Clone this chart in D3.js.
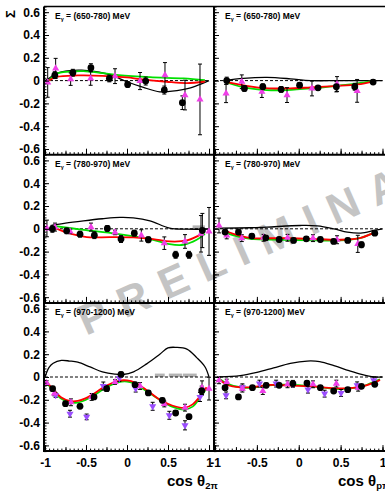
<!DOCTYPE html>
<html><head><meta charset="utf-8">
<script src="https://cdn.jsdelivr.net/npm/d3@7"></script>
<style>
body{margin:0;background:#fff}
svg{display:block}
text{font-family:"Liberation Sans",Arial,Helvetica,sans-serif;font-weight:bold}
</style>
</head><body>
<svg id="chart" width="385" height="491"></svg>
<script>
// ---- energy bins (rows) and angle variables (columns) ----
const energyBins = ["(650-780)", "(780-970)", "(970-1200)"];
const axisTitles = ["2π", "pπ"];
const yTickValues = [-0.6, -0.4, -0.2, 0, 0.2, 0.4, 0.6];
const xTickValues = [-1, -0.5, 0, 0.5, 1];
const xTickLabels = ["-1", "-0.5", "0", "0.5", "1"];

// ---- E = 650-780 MeV, cos theta_2pi ----
const e650_2pi_circX = [-0.88, -0.66, -0.44, -0.215, 0.008, 0.228, 0.455, 0.675];
const e650_2pi_circY = [0.048, 0.069, 0.113, 0.019, -0.034, -0.004, -0.083, -0.194];
const e650_2pi_circE = [0.03, 0.03, 0.035, 0.03, 0.025, 0.035, 0.035, 0.06];
const e650_2pi_triX = [-0.967, -0.87, -0.687, -0.443, -0.146, 0.159, 0.463, 0.707, 0.89];
const e650_2pi_triY = [-0.016, 0.107, 0.013, 0.019, 0.039, -0.004, 0.048, -0.127, -0.165];
const e650_2pi_triE = [0.13, 0.088, 0.055, 0.06, 0.065, 0.075, 0.11, 0.13, 0.31];
const e650_2pi_black = [[-1,0],[-0.95,0.02],[-0.86,0.063],[-0.7,0.088],[-0.55,0.092],[-0.4,0.08],[-0.2,0.05],[0,-0.01],[0.2,-0.06],[0.4,-0.098],[0.55,-0.092],[0.75,-0.068],[0.9,-0.03],[1,0]];
const e650_2pi_green = [[-0.95,0.0],[-0.86,0.06],[-0.7,0.078],[-0.53,0.083],[-0.3,0.065],[-0.1,0.048],[0.28,0.03],[0.69,0.019],[0.95,0.004]];
const e650_2pi_red = [[-0.95,0],[-0.86,0.032],[-0.6,0.045],[-0.3,0.042],[0,0.028],[0.16,0.013],[0.48,-0.01],[0.73,-0.022],[0.95,-0.008]];

// ---- E = 650-780 MeV, cos theta_ppi ----
const e650_ppi_circX = [-0.86, -0.649, -0.429, -0.21, 0.01, 0.23, 0.449, 0.669, 0.888];
const e650_ppi_circY = [0, -0.069, -0.054, -0.077, -0.04, -0.063, -0.054, -0.054, -0.013];
const e650_ppi_circE = [0.03, 0.025, 0.025, 0.025, 0.02, 0.02, 0.045, 0.03, 0.02];
const e650_ppi_triX = [-0.868, -0.68, -0.44, -0.14, 0.158, 0.457, 0.697];
const e650_ppi_triY = [-0.113, -0.01, -0.098, -0.127, -0.069, -0.03, -0.09];
const e650_ppi_triE = [0.08, 0.06, 0.05, 0.065, 0.065, 0.065, 0.1];
const e650_ppi_black = [[-0.9,0],[-0.66,0.02],[-0.38,0.028],[-0.1,0.016],[0.14,0.0],[0.5,0],[1,0]];
const e650_ppi_green = [[-0.88,-0.01],[-0.66,-0.06],[-0.38,-0.083],[-0.14,-0.083],[0.14,-0.069],[0.42,-0.048],[0.7,-0.025],[0.9,-0.001]];
const e650_ppi_red = [[-0.88,-0.004],[-0.78,-0.025],[-0.46,-0.063],[-0.14,-0.069],[0.14,-0.06],[0.42,-0.048],[0.7,-0.034],[0.9,-0.004]];

// ---- E = 780-970 MeV, cos theta_2pi ----
const e780_2pi_circX = [-0.91, -0.736, -0.573, -0.398, -0.24, -0.073, 0.089, 0.26, 0.593, 0.756, 0.919];
const e780_2pi_circY = [0, -0.018, -0.047, -0.056, 0.003, -0.09, -0.038, -0.096, -0.228, -0.228, -0.015];
const e780_2pi_circE = [0.03, 0.025, 0.025, 0.03, 0.025, 0.03, 0.025, 0.025, 0.03, 0.03, 0.15];
const e780_2pi_triX = [-0.976, -0.878, -0.695, -0.439, -0.146, 0.175, 0.455, 0.707, 0.902, 1.0];
const e780_2pi_triY = [0.003, 0.015, -0.023, 0.015, -0.032, -0.058, -0.126, -0.111, -0.044, -0.023];
const e780_2pi_triE = [0.073, 0.035, 0.02, 0.035, 0.02, 0.05, 0.055, 0.06, 0.16, 0.21];
const e780_2pi_black = [[-0.92,0.03],[-0.75,0.05],[-0.53,0.07],[-0.3,0.088],[-0.085,0.1],[0.077,0.096],[0.28,0.07],[0.52,0.006],[0.73,-0.003],[1,-0.003]];
const e780_2pi_green = [[-0.9,0.026],[-0.53,-0.009],[-0.126,-0.044],[0.28,-0.09],[0.52,-0.135],[0.687,-0.14],[0.85,-0.096],[0.95,-0.044]];
const e780_2pi_red = [[-0.9,0.015],[-0.736,-0.032],[-0.49,-0.073],[-0.207,-0.073],[0.077,-0.076],[0.32,-0.09],[0.52,-0.111],[0.73,-0.102],[0.93,-0.038]];

// ---- E = 780-970 MeV, cos theta_ppi ----
const e780_ppi_circX = [-0.88, -0.72, -0.56, -0.393, -0.234, -0.062, 0.09, 0.258, 0.417, 0.585, 0.749, 0.908];
const e780_ppi_circY = [-0.029, -0.029, -0.064, -0.079, -0.094, -0.102, -0.088, -0.094, -0.111, -0.102, -0.14, -0.038];
const e780_ppi_circE = [0.02, 0.02, 0.02, 0.02, 0.02, 0.02, 0.02, 0.02, 0.02, 0.02, 0.025, 0.02];
const e780_ppi_triX = [-0.952, -0.86, -0.68, -0.42, -0.134, 0.17, 0.457, 0.705];
const e780_ppi_triY = [0.029, -0.058, -0.082, -0.079, -0.079, -0.082, -0.096, -0.132];
const e780_ppi_triE = [0.065, 0.03, 0.03, 0.03, 0.03, 0.03, 0.035, 0.075];
const e780_ppi_black = [[-0.94,0.006],[-0.58,0.009],[-0.38,0.015],[0.02,0.029],[0.22,0.026],[0.42,0],[0.58,-0.029],[0.74,-0.038],[0.9,-0.015],[1,0]];
const e780_ppi_green = [[-0.88,-0.029],[-0.78,-0.058],[-0.58,-0.088],[-0.18,-0.096],[0.22,-0.102],[0.5,-0.102],[0.74,-0.079],[0.91,-0.029]];
const e780_ppi_red = [[-0.88,-0.015],[-0.78,-0.044],[-0.58,-0.079],[-0.18,-0.082],[0.14,-0.088],[0.5,-0.096],[0.74,-0.079],[0.91,-0.029]];

// ---- E = 970-1200 MeV, cos theta_2pi ----
const e970_2pi_circX = [-0.907, -0.75, -0.573, -0.402, -0.248, -0.073, 0.098, 0.26, 0.431, 0.593, 0.756, 0.911];
const e970_2pi_circY = [-0.102, -0.234, -0.257, -0.175, -0.102, 0.023, -0.067, -0.14, -0.205, -0.316, -0.348, -0.12];
const e970_2pi_circE = [0.02, 0.02, 0.02, 0.02, 0.025, 0.02, 0.02, 0.02, 0.02, 0.02, 0.02, 0.04];
const e970_2pi_triX = [-0.98, -0.886, -0.683, -0.431, -0.146, 0.159, 0.455, 0.707, 0.915, 1.0];
const e970_2pi_triY = [-0.053, -0.145, -0.222, -0.175, -0.044, -0.079, -0.237, -0.269, -0.094, -0.102];
const e970_2pi_triE = [0.02, 0.02, 0.03, 0.03, 0.02, 0.03, 0.025, 0.03, 0.06, 0.1];
const e970_2pi_invX = [-0.87, -0.695, -0.492, -0.289, -0.093, 0.106, 0.313, 0.516, 0.707, 0.89];
const e970_2pi_invY = [-0.16, -0.322, -0.35, -0.079, -0.009, -0.102, -0.257, -0.336, -0.424, -0.175];
const e970_2pi_invE = [0.02, 0.03, 0.025, 0.035, 0.03, 0.03, 0.035, 0.035, 0.04, 0.04];
const e970_2pi_black = [[-1,0],[-0.95,0.085],[-0.9,0.12],[-0.8,0.145],[-0.7,0.14],[-0.6,0.13],[-0.45,0.088],[-0.3,0.045],[-0.15,0.025],[-0.05,0.022],[0.08,0.045],[0.24,0.115],[0.4,0.2],[0.5,0.255],[0.6,0.26],[0.73,0.245],[0.85,0.17],[0.95,0.09],[1,0]];
const e970_2pi_green = [[-0.98,-0.05],[-0.9,-0.12],[-0.8,-0.19],[-0.7,-0.22],[-0.6,-0.225],[-0.5,-0.2],[-0.4,-0.16],[-0.25,-0.09],[-0.1,-0.045],[0,-0.04],[0.1,-0.06],[0.25,-0.13],[0.4,-0.2],[0.55,-0.26],[0.7,-0.285],[0.8,-0.26],[0.9,-0.17],[0.97,-0.1]];
const e970_2pi_red = [[-0.98,-0.04],[-0.9,-0.11],[-0.8,-0.18],[-0.7,-0.21],[-0.6,-0.21],[-0.5,-0.185],[-0.4,-0.145],[-0.25,-0.075],[-0.1,-0.033],[0,-0.03],[0.1,-0.05],[0.25,-0.12],[0.4,-0.2],[0.55,-0.25],[0.7,-0.27],[0.8,-0.24],[0.9,-0.16],[0.97,-0.09]];

// ---- E = 970-1200 MeV, cos theta_ppi ----
const e970_ppi_circX = [-0.88, -0.72, -0.553, -0.389, -0.234, -0.07, 0.098, 0.258, 0.417, 0.585, 0.749, 0.908];
const e970_ppi_circY = [-0.094, -0.175, -0.094, -0.073, -0.073, -0.058, -0.053, -0.094, -0.123, -0.111, -0.082, -0.064];
const e970_ppi_circE = [0.02, 0.015, 0.015, 0.02, 0.02, 0.02, 0.02, 0.015, 0.015, 0.015, 0.015, 0.02];
const e970_ppi_triX = [-0.952, -0.86, -0.673, -0.429, -0.134, 0.17, 0.449, 0.709];
const e970_ppi_triY = [-0.029, -0.044, -0.102, -0.123, -0.064, -0.064, -0.058, -0.094];
const e970_ppi_triE = [0.03, 0.025, 0.03, 0.03, 0.03, 0.03, 0.03, 0.03];
const e970_ppi_invX = [-0.868, -0.673, -0.469, -0.27, -0.07, 0.11, 0.309, 0.505, 0.697, 0.896];
const e970_ppi_invY = [-0.161, -0.09, -0.058, -0.058, -0.06, -0.111, -0.146, -0.14, -0.073, -0.029];
const e970_ppi_invE = [0.03, 0.03, 0.03, 0.03, 0.03, 0.03, 0.03, 0.03, 0.03, 0.03];
const e970_ppi_black = [[-0.95,0],[-0.7,0.012],[-0.5,0.04],[-0.3,0.08],[-0.1,0.12],[0.1,0.14],[0.25,0.135],[0.42,0.1],[0.6,0.055],[0.75,0.022],[0.9,0],[1,0]];
const e970_ppi_green = [[-0.95,-0.015],[-0.85,-0.06],[-0.7,-0.09],[-0.55,-0.095],[-0.4,-0.075],[-0.2,-0.068],[0,-0.072],[0.2,-0.085],[0.45,-0.105],[0.6,-0.1],[0.75,-0.085],[0.9,-0.04],[0.97,-0.02]];
const e970_ppi_red = [[-0.95,-0.02],[-0.85,-0.07],[-0.7,-0.09],[-0.55,-0.088],[-0.35,-0.07],[-0.1,-0.075],[0.2,-0.085],[0.45,-0.1],[0.6,-0.098],[0.75,-0.085],[0.9,-0.05],[0.97,-0.025]];

// systematic uncertainty bins drawn as grey boxes on the zero line: [centre, half width, height]
const e780_2pi_sys = [[0.875, 0.075, 0.03]];
const e970_2pi_sys = [[0.4, 0.06, 0.03], [0.59, 0.08, 0.03], [0.765, 0.085, 0.03]];

// ---------------------------------------------------------------
const zip = (xs, ys, es) => xs.map((x, i) => ({x, y: ys[i], e: es[i]}));
const panels = [
  {row:0, col:0, circ: zip(e650_2pi_circX, e650_2pi_circY, e650_2pi_circE), tri: zip(e650_2pi_triX, e650_2pi_triY, e650_2pi_triE), inv: [], black: e650_2pi_black, green: e650_2pi_green, red: e650_2pi_red, sys: []},
  {row:0, col:1, circ: zip(e650_ppi_circX, e650_ppi_circY, e650_ppi_circE), tri: zip(e650_ppi_triX, e650_ppi_triY, e650_ppi_triE), inv: [], black: e650_ppi_black, green: e650_ppi_green, red: e650_ppi_red, sys: []},
  {row:1, col:0, circ: zip(e780_2pi_circX, e780_2pi_circY, e780_2pi_circE), tri: zip(e780_2pi_triX, e780_2pi_triY, e780_2pi_triE), inv: [], black: e780_2pi_black, green: e780_2pi_green, red: e780_2pi_red, sys: e780_2pi_sys},
  {row:1, col:1, circ: zip(e780_ppi_circX, e780_ppi_circY, e780_ppi_circE), tri: zip(e780_ppi_triX, e780_ppi_triY, e780_ppi_triE), inv: [], black: e780_ppi_black, green: e780_ppi_green, red: e780_ppi_red, sys: []},
  {row:2, col:0, circ: zip(e970_2pi_circX, e970_2pi_circY, e970_2pi_circE), tri: zip(e970_2pi_triX, e970_2pi_triY, e970_2pi_triE), inv: zip(e970_2pi_invX, e970_2pi_invY, e970_2pi_invE), black: e970_2pi_black, green: e970_2pi_green, red: e970_2pi_red, sys: e970_2pi_sys},
  {row:2, col:1, circ: zip(e970_ppi_circX, e970_ppi_circY, e970_ppi_circE), tri: zip(e970_ppi_triX, e970_ppi_triY, e970_ppi_triE), inv: zip(e970_ppi_invX, e970_ppi_invY, e970_ppi_invE), black: e970_ppi_black, green: e970_ppi_green, red: e970_ppi_red, sys: []}
];

const svg = d3.select("#chart");
const colRange = [[44, 210], [214, 383.5]];
const rowTop = 6.5, rowH = 148.2;
const xScales = colRange.map(r => d3.scaleLinear().domain([-1.012, 1.012]).range(r));
const yScales = energyBins.map((_, i) => d3.scaleLinear().domain([-0.65, 0.65]).range([rowTop + (i + 1) * rowH, rowTop + i * rowH]));
const bottomY = rowTop + 3 * rowH;

const minorY = d3.range(-0.65, 0.6501, 0.025).map(v => +v.toFixed(3));
const midX = d3.range(-1, 1.001, 0.25).map(v => +v.toFixed(3));
const minorX = d3.range(-1, 1.001, 0.05).map(v => +v.toFixed(3));

const gWater = svg.append("g");
const gData = svg.append("g");
const gAxes = svg.append("g");

// watermark
gWater.append("text")
  .attr("transform", "translate(86,336) rotate(-24)")
  .attr("font-size", 43)
  .attr("letter-spacing", 14)
  .attr("fill", "#c4c4c4")
  .text("PRELIMINARY");

const line = (x, y) => d3.line().x(d => x(d[0])).y(d => y(d[1])).curve(d3.curveCatmullRom.alpha(0.5));
const tri = d3.symbol().type(d3.symbolTriangle).size(22);

panels.forEach(p => {
  const x = xScales[p.col], y = yScales[p.row];
  const g = gData.append("g");

  // systematic boxes
  g.selectAll("rect.sys").data(p.sys).join("rect")
    .attr("x", d => x(d[0] - d[1])).attr("width", d => x(d[0] + d[1]) - x(d[0] - d[1]))
    .attr("y", d => y(d[2])).attr("height", d => y(0) - y(d[2]))
    .attr("fill", "#b4b4b4");

  // zero reference
  g.append("line").attr("x1", x(-1)).attr("x2", x(1)).attr("y1", y(0)).attr("y2", y(0))
    .attr("stroke", "#000").attr("stroke-width", 1).attr("stroke-dasharray", "3,2");

  // model curves
  g.append("path").attr("d", line(x, y)(p.black)).attr("fill", "none").attr("stroke", "#000").attr("stroke-width", 1.3);
  g.append("path").attr("d", line(x, y)(p.green)).attr("fill", "none").attr("stroke", "#00e000").attr("stroke-width", 1.8);
  g.append("path").attr("d", line(x, y)(p.red)).attr("fill", "none").attr("stroke", "#ff0000").attr("stroke-width", 1.8);

  // error bars
  const all = p.circ.concat(p.tri, p.inv);
  const eb = g.append("g").attr("stroke", "#000").attr("stroke-width", 1);
  all.forEach(d => {
    const xx = x(d.x), y1 = y(d.y - d.e), y2 = y(d.y + d.e);
    eb.append("line").attr("x1", xx).attr("x2", xx).attr("y1", y1).attr("y2", y2);
    eb.append("line").attr("x1", xx - 2).attr("x2", xx + 2).attr("y1", y1).attr("y2", y1);
    eb.append("line").attr("x1", xx - 2).attr("x2", xx + 2).attr("y1", y2).attr("y2", y2);
  });

  g.selectAll("path.inv").data(p.inv).join("path")
    .attr("d", tri).attr("transform", d => `translate(${x(d.x)},${y(d.y)}) rotate(180)`)
    .attr("fill", "#9a4dff");
  g.selectAll("path.tri").data(p.tri).join("path")
    .attr("d", tri).attr("transform", d => `translate(${x(d.x)},${y(d.y)})`)
    .attr("fill", "#f03ee8");
  g.selectAll("circle").data(p.circ).join("circle")
    .attr("cx", d => x(d.x)).attr("cy", d => y(d.y)).attr("r", 3.4).attr("fill", "#000");

  // panel label
  const lbl = g.append("text").attr("x", x(-1) + 10).attr("y", y(0.65) + 12.5).attr("font-size", 8.5);
  lbl.append("tspan").text("E");
  lbl.append("tspan").attr("font-size", 5.5).attr("dy", 2).text("γ");
  lbl.append("tspan").attr("dy", -2).text(" = " + energyBins[p.row] + " MeV");
});

// axes: y ticks on each column, labels on the left column only
energyBins.forEach((_, r) => {
  const y = yScales[r];
  colRange.forEach((cr, c) => {
    const gm = gAxes.append("g").attr("transform", `translate(${cr[0]},0)`)
      .call(d3.axisRight(y).tickValues(yTickValues).tickSize(5).tickFormat(""));
    gm.select(".domain").remove();
    const gn = gAxes.append("g").attr("transform", `translate(${cr[0]},0)`)
      .call(d3.axisRight(y).tickValues(minorY).tickSize(2.5).tickFormat(""));
    gn.select(".domain").remove();
    // x ticks at bottom of each row
    const x = xScales[c];
    const yb = y.range()[0];
    [[xTickValues, 6], [midX, 4], [minorX, 2.5]].forEach(([vals, len]) => {
      const ga = gAxes.append("g").attr("transform", `translate(0,${yb})`)
        .call(d3.axisTop(x).tickValues(vals).tickSize(len).tickFormat(""));
      ga.select(".domain").remove();
    });
  });
  const gl = gAxes.append("g").attr("transform", `translate(${colRange[0][0]},0)`)
    .call(d3.axisLeft(y).tickValues(yTickValues).tickSize(0).tickPadding(4)
      .tickFormat(v => v === 0 ? "0" : v.toFixed(1)));
  gl.select(".domain").remove();
  gl.selectAll("text").attr("font-size", 12).attr("font-family", null).attr("fill", "#000");
  // row separator / x axis line
  gAxes.append("line").attr("x1", colRange[0][0]).attr("x2", 385).attr("y1", y.range()[0]).attr("y2", y.range()[0])
    .attr("stroke", "#000").attr("stroke-width", 2);
});

// x tick labels at the very bottom
xScales.forEach(x => {
  const ga = gAxes.append("g").attr("transform", `translate(0,${bottomY})`)
    .call(d3.axisBottom(x).tickValues(xTickValues).tickSize(0).tickPadding(7.5)
      .tickFormat((d, i) => xTickLabels[i]));
  ga.select(".domain").remove();
  ga.selectAll("text").attr("font-size", 12).attr("font-family", null).attr("fill", "#000");
});

// frame lines
gAxes.append("line").attr("x1", colRange[0][0]).attr("x2", 385).attr("y1", rowTop).attr("y2", rowTop)
  .attr("stroke", "#000").attr("stroke-width", 1.5);
colRange.forEach(cr => {
  gAxes.append("line").attr("x1", cr[0]).attr("x2", cr[0]).attr("y1", rowTop).attr("y2", bottomY + 1)
    .attr("stroke", "#000").attr("stroke-width", 2);
});
gAxes.selectAll(".tick line").attr("stroke", "#000");

// axis titles
const titleStarts = [167, 338];
axisTitles.forEach((sub, i) => {
  const t = svg.append("text").attr("x", titleStarts[i]).attr("y", 486).attr("font-size", 15);
  t.append("tspan").text("cos θ");
  t.append("tspan").attr("font-size", 9.5).attr("dy", 3).text(sub);
});
svg.append("text").attr("transform", "translate(15,14) rotate(-90)")
  .attr("text-anchor", "middle").attr("font-size", 13).text("Σ");
</script>
</body></html>
